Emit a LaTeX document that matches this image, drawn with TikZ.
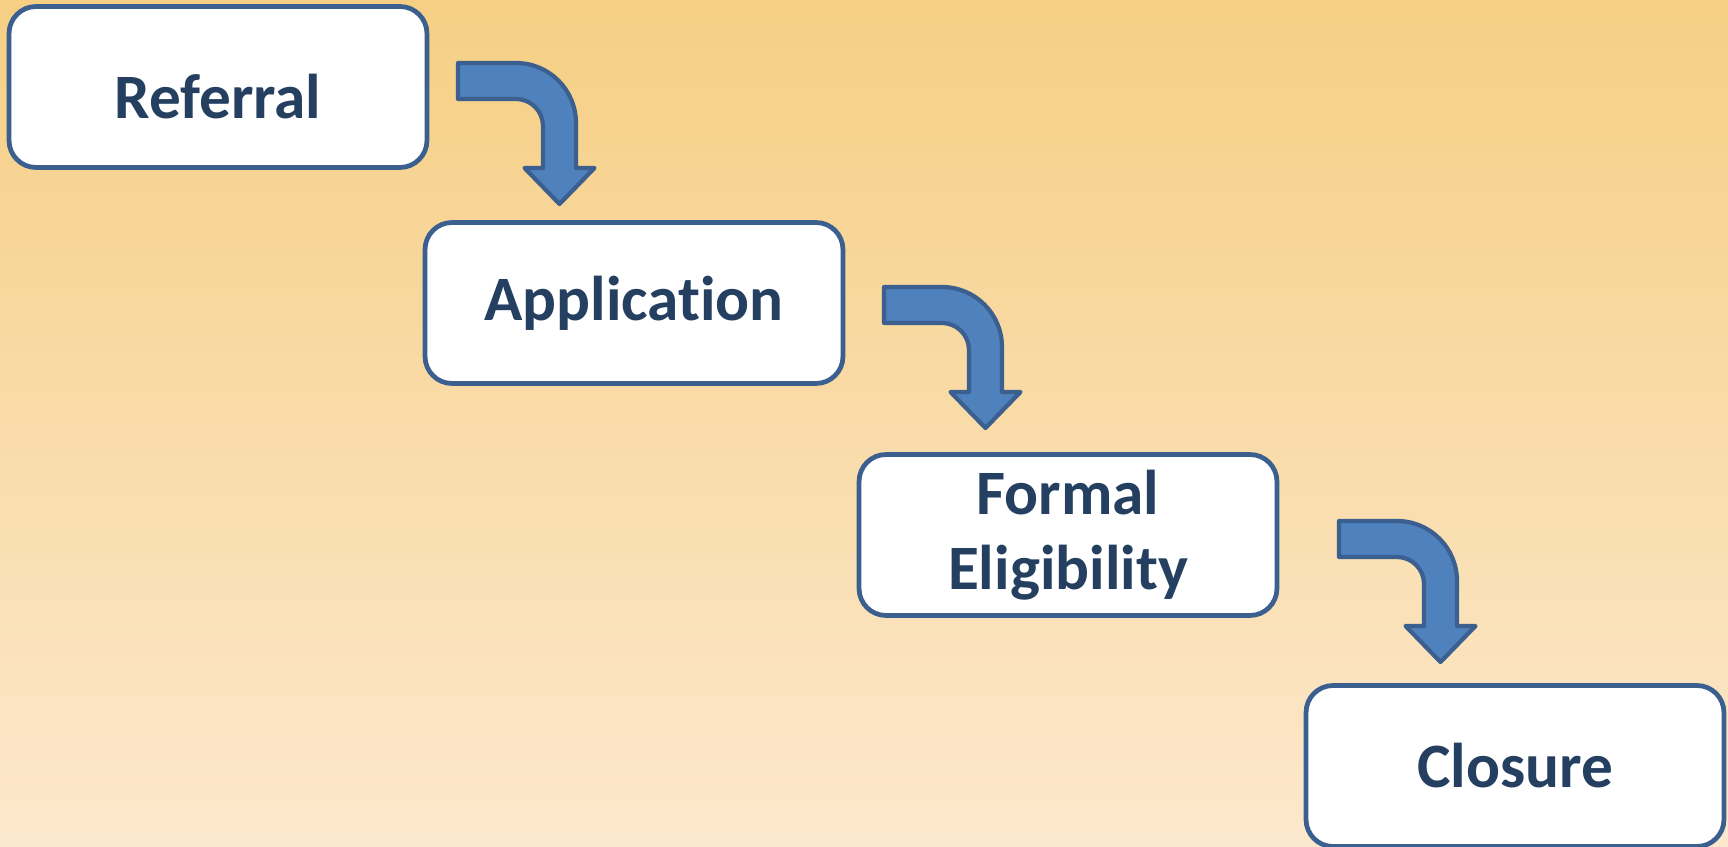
\documentclass[tikz,border=0pt]{standalone}
\usepackage{fontspec}
\setmainfont{Carlito}[Ligatures={NoCommon,NoRare}]
\usepackage{xcolor}
\usepackage{tikz}

\definecolor{bgtop}{HTML}{F6CF84}
\definecolor{bgbot}{HTML}{FCE8CD}
\definecolor{edge}{HTML}{3B5F8E}
\definecolor{arrowblue}{HTML}{4F81BD}
\definecolor{textblue}{HTML}{243F60}

\begin{document}
\begin{tikzpicture}[x=0.02cm,y=-0.02cm,
  stage/.style={draw=edge,line width=2.7pt,fill=white,rounded corners=0.54cm,
    minimum width=8.36cm,minimum height=3.22cm,align=center,text=textblue,
    font=\bfseries\fontsize{36}{43}\selectfont},
  turnarrow/.style={draw=edge,line width=2.4pt,fill=arrowblue,line join=round}]
\useasboundingbox (0,0) rectangle (1728,847);
\shade[top color=bgtop,bottom color=bgbot] (0,0) rectangle (1728,847);

\node[stage] (referral) at (218,87) {\raisebox{-0.2cm}[\height][\depth]{Referral}};
\node[stage] (application) at (634,303) {Application};
\node[stage] (eligibility) at (1068,535) {Formal\\Eligibility};
\node[stage] (closure) at (1515,766) {Closure};

% bent arrows between the stages
\draw[turnarrow,shift={(458,63)}] (0,0) -- (58,0) arc[start angle=-90,end angle=0,radius=60]
  -- (118,105) -- (136.5,105) -- (101.5,141) -- (66.5,105) -- (85,105) -- (85,63)
  arc[start angle=0,end angle=-90,radius=27] -- (0,36) -- cycle;
\draw[turnarrow,shift={(884,287)}] (0,0) -- (58,0) arc[start angle=-90,end angle=0,radius=60]
  -- (118,105) -- (136.5,105) -- (101.5,141) -- (66.5,105) -- (85,105) -- (85,63)
  arc[start angle=0,end angle=-90,radius=27] -- (0,36) -- cycle;
\draw[turnarrow,shift={(1339,521)}] (0,0) -- (58,0) arc[start angle=-90,end angle=0,radius=60]
  -- (118,105) -- (136.5,105) -- (101.5,141) -- (66.5,105) -- (85,105) -- (85,63)
  arc[start angle=0,end angle=-90,radius=27] -- (0,36) -- cycle;

\end{tikzpicture}
\end{document}
